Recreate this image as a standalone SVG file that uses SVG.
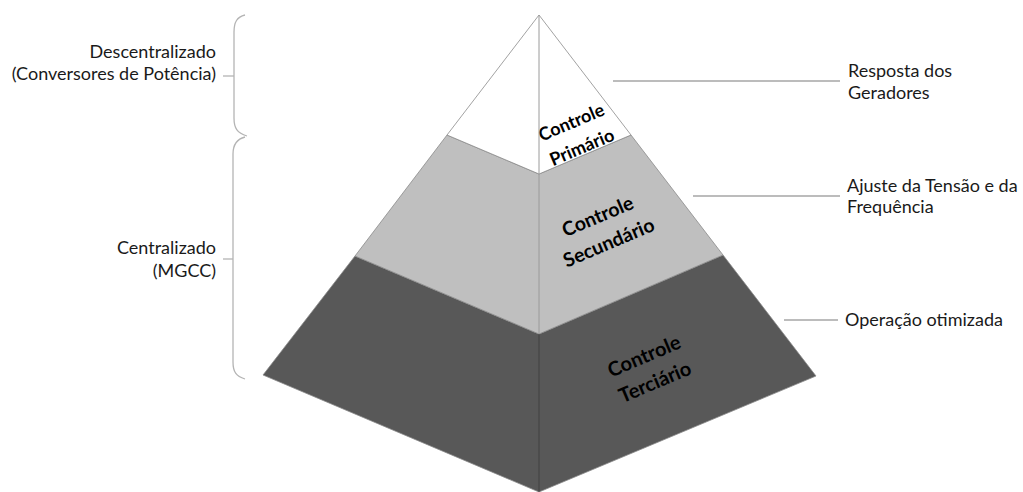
<svg xmlns="http://www.w3.org/2000/svg" width="1023" height="492" viewBox="0 0 1023 492">
  <style>
    .face { stroke: #8a8a8a; stroke-width: 0.8; stroke-linejoin: round; }
    .axis { stroke: #9a9a9a; stroke-width: 1; }
    .lead { stroke: #a6a6a6; stroke-width: 1.3; fill: none; }
    .brace { stroke: #b4b4b4; stroke-width: 1.3; fill: none; }
    .lbl { font-family: Lato, "Liberation Sans", sans-serif; font-size: 18px; fill: #1a1a1a; }
    .lvl { font-family: Lato, "Liberation Sans", sans-serif; font-weight: 700; fill: #000; text-anchor: middle; }
  </style>

  <!-- pyramid levels -->
  <g id="terciario">
    <polygon class="face" fill="#585858" points="355,256 539,334 723,255 816,376 539,492 263,375"/>
    <g transform="translate(649.5,369) rotate(-23)">
      <text class="lvl" font-size="20" y="-7">Controle</text>
      <text class="lvl" font-size="20" y="21">Terciário</text>
    </g>
  </g>
  <g id="secundario">
    <polygon class="face" fill="#bfbfbf" points="447,135 539,174 631,135 723,255 539,334 355,256"/>
    <g transform="translate(603,229) rotate(-23)">
      <text class="lvl" font-size="19.5" y="-7">Controle</text>
      <text class="lvl" font-size="19.5" y="21.5">Secundário</text>
    </g>
  </g>
  <g id="primario">
    <polygon class="face" fill="#ffffff" points="539,15 631,135 539,174 447,135"/>
    <g transform="translate(576.5,134.5) rotate(-23)">
      <text class="lvl" font-size="18" y="-7">Controle</text>
      <text class="lvl" font-size="18" y="20">Primário</text>
    </g>
  </g>
  <line class="axis" x1="539" y1="15" x2="539" y2="174"/>
  <line class="axis" x1="539" y1="174" x2="539" y2="334"/>
  <line stroke="#404040" stroke-width="1" x1="539" y1="334" x2="539" y2="492"/>

  <!-- leaders and braces -->
  <g id="connectors">
    <line class="lead" x1="613" y1="81" x2="840" y2="81"/>
    <line class="lead" x1="693" y1="196" x2="840" y2="196"/>
    <line class="lead" x1="784" y1="320" x2="838" y2="320"/>
    <path class="brace" d="M245,15 C237,17 234,22 234,32 L234,118 C234,128 237,133 247,136"/>
    <line class="brace" x1="223" y1="76" x2="234" y2="76"/>
    <path class="brace" d="M245,137 C237,139 233,144 233,154 L233,362 C233,372 236,376 245,379"/>
    <line class="brace" x1="223" y1="259" x2="233" y2="259"/>
  </g>

  <!-- side labels -->
  <g id="label-resposta">
    <text class="lbl" x="848" y="77">Resposta dos</text>
    <text class="lbl" x="848" y="99">Geradores</text>
  </g>
  <g id="label-ajuste">
    <text class="lbl" x="847" y="192">Ajuste da Tensão e da</text>
    <text class="lbl" x="847" y="213">Frequência</text>
  </g>
  <g id="label-operacao">
    <text class="lbl" x="845" y="326">Operação otimizada</text>
  </g>
  <g id="label-descentralizado" text-anchor="end">
    <text class="lbl" x="216" y="58">Descentralizado</text>
    <text class="lbl" x="216" y="80">(Conversores de Potência)</text>
  </g>
  <g id="label-centralizado" text-anchor="end">
    <text class="lbl" x="216" y="254">Centralizado</text>
    <text class="lbl" x="216" y="277">(MGCC)</text>
  </g>
</svg>
